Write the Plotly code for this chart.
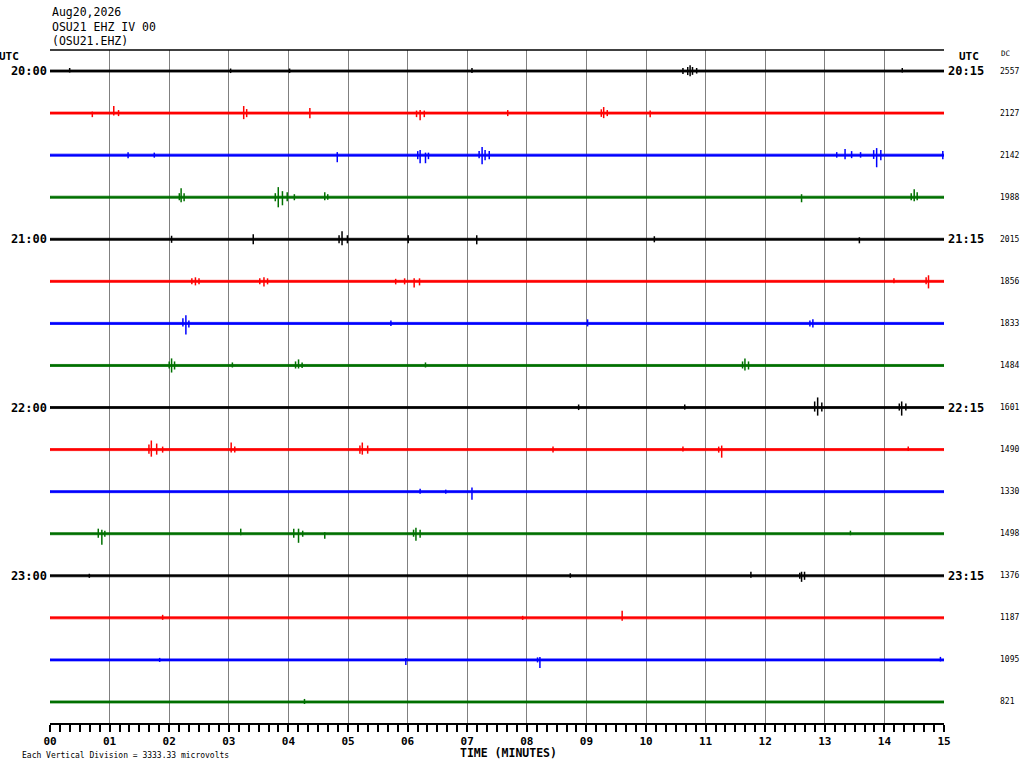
import plotly.graph_objects as go

# Helicorder page: OSU21 EHZ, 20:00-24:00 UTC, 15 minutes per line
MINUTES = 15
UV_PER_DIV = 3333.33  # each vertical division (line spacing), microvolts

HEADER = ["Aug20,2026", "OSU21 EHZ IV 00", "(OSU21.EHZ)"]
LEFT_TIMES = ["20:00", "21:00", "22:00", "23:00"]
RIGHT_TIMES = ["20:15", "21:15", "22:15", "23:15"]
HOUR_LINES = [0, 4, 8, 12]
DC_VALUES = [2557, 2127, 2142, 1988, 2015, 1856, 1833, 1484,
             1601, 1490, 1330, 1498, 1376, 1187, 1095, 821]
TRACE_COLORS = ["#000000", "#ff0000", "#0000ff", "#007000"]
MINUTE_LABELS = ["%02d" % m for m in range(MINUTES + 1)]

# background noise half-width for every line, microvolts
NOISE_UV = 80

# spikes: (minute, peak up uV, peak down uV)
T00 = [(0.33, 240, 120), (3.03, 200, 160), (4.02, 200, 160), (7.08, 240, 160),
       (10.62, 240, 240), (10.70, 320, 320), (10.74, 450, 420), (10.78, 320, 300),
       (10.85, 240, 200), (14.30, 240, 120)]
T01 = [(0.71, 120, 320), (1.07, 560, 200), (1.15, 240, 240), (3.25, 560, 480),
       (3.30, 320, 320), (4.36, 400, 400), (6.15, 200, 320), (6.21, 240, 560),
       (6.28, 200, 320), (7.68, 240, 240), (9.25, 300, 300), (9.29, 480, 400),
       (9.35, 240, 240), (10.07, 200, 320)]
T02 = [(1.31, 240, 240), (1.75, 200, 200), (4.82, 240, 560), (6.17, 320, 320),
       (6.21, 400, 640), (6.30, 200, 640), (6.35, 200, 320), (7.20, 320, 240),
       (7.25, 640, 720), (7.30, 400, 400), (7.37, 320, 320), (13.20, 240, 200),
       (13.34, 480, 320), (13.45, 320, 240), (13.60, 240, 200), (13.82, 400, 300),
       (13.87, 560, 960), (13.94, 400, 400), (14.98, 320, 320)]
T03 = [(2.17, 320, 240), (2.20, 720, 400), (2.25, 320, 320), (3.78, 320, 320),
       (3.83, 800, 800), (3.90, 480, 640), (3.98, 400, 320), (4.10, 240, 240),
       (4.61, 400, 240), (4.66, 240, 200), (12.61, 240, 400), (14.45, 320, 240),
       (14.50, 640, 320), (14.55, 400, 240)]
T04 = [(2.04, 280, 280), (3.41, 400, 400), (4.85, 320, 320), (4.90, 640, 480),
       (4.99, 320, 320), (6.01, 320, 320), (7.16, 320, 400), (10.14, 240, 240),
       (13.58, 160, 320)]
T05 = [(2.38, 240, 240), (2.44, 320, 320), (2.50, 240, 240), (3.52, 240, 240),
       (3.59, 320, 400), (3.65, 240, 240), (5.80, 200, 240), (5.95, 240, 240),
       (6.11, 240, 480), (6.20, 240, 320), (14.16, 240, 160), (14.70, 320, 240),
       (14.74, 480, 560)]
T06 = [(2.23, 400, 240), (2.28, 640, 880), (2.33, 240, 320), (5.72, 240, 200),
       (9.02, 320, 240), (12.75, 240, 240), (12.80, 320, 320)]
T07 = [(2.00, 320, 240), (2.04, 560, 560), (2.09, 320, 320), (3.06, 240, 160),
       (4.12, 320, 240), (4.17, 480, 240), (4.23, 240, 200), (6.30, 240, 160),
       (11.62, 320, 240), (11.66, 560, 400), (11.72, 320, 320)]
T08 = [(8.87, 240, 200), (10.65, 240, 160), (12.83, 480, 320), (12.88, 800, 640),
       (12.95, 400, 320), (14.25, 320, 240), (14.29, 480, 640), (14.36, 320, 240)]
T09 = [(1.66, 400, 320), (1.70, 720, 560), (1.79, 480, 400), (1.89, 240, 240),
       (3.04, 560, 240), (3.10, 240, 240), (5.20, 320, 320), (5.24, 560, 400),
       (5.33, 320, 320), (8.44, 240, 240), (10.62, 240, 160), (11.22, 240, 240),
       (11.27, 320, 640), (14.40, 240, 120)]
T10 = [(6.21, 240, 160), (6.64, 160, 160), (7.08, 320, 640)]
T11 = [(0.81, 400, 320), (0.87, 320, 880), (0.92, 240, 240), (3.20, 400, 120),
       (4.09, 400, 320), (4.17, 400, 720), (4.24, 240, 240), (4.61, 120, 400),
       (6.10, 320, 240), (6.14, 480, 560), (6.21, 320, 320), (13.43, 240, 120)]
T12 = [(0.66, 160, 160), (8.73, 200, 160), (11.76, 320, 160), (12.58, 240, 240),
       (12.61, 320, 480), (12.66, 320, 320)]
T13 = [(1.89, 240, 160), (7.93, 160, 160), (9.60, 560, 240)]
T14 = [(1.84, 160, 160), (5.97, 160, 400), (8.18, 200, 200), (8.22, 240, 640),
       (14.94, 240, 120)]
T15 = [(4.27, 240, 160)]

SPIKES = [T00, T01, T02, T03, T04, T05, T06, T07,
          T08, T09, T10, T11, T12, T13, T14, T15]

MONO = "DejaVu Sans Mono"
n_lines = len(SPIKES)

fig = go.Figure()

for i, spikes in enumerate(SPIKES):
    color = TRACE_COLORS[i % 4]
    base = -i
    nz = NOISE_UV / UV_PER_DIV
    # noise band along the line
    fig.add_trace(go.Scatter(
        x=[0, MINUTES, MINUTES, 0, 0],
        y=[base + nz, base + nz, base - nz, base - nz, base + nz],
        mode="lines", fill="toself", fillcolor=color,
        line=dict(color=color, width=0.8), hoverinfo="skip", showlegend=False,
    ))
    xs, ys = [], []
    for m, up, dn in spikes:
        xs += [m, m, None]
        ys += [base + up / UV_PER_DIV, base - dn / UV_PER_DIV, None]
    fig.add_trace(go.Scatter(
        x=xs, y=ys, mode="lines", line=dict(color=color, width=1.5),
        hoverinfo="skip", showlegend=False,
    ))

# invisible anchor so the right-hand time axis is drawn
fig.add_trace(go.Scatter(
    x=[MINUTES] * len(HOUR_LINES), y=[-h for h in HOUR_LINES], yaxis="y2",
    mode="markers", marker=dict(opacity=0), hoverinfo="skip", showlegend=False,
))

yrange = [-(n_lines - 1) - 0.5, 0.5]

fig.update_layout(
    width=1024, height=768,
    margin=dict(l=50, r=80, t=50, b=45),
    plot_bgcolor="white", paper_bgcolor="white",
    font=dict(family=MONO, color="black"),
    xaxis=dict(
        range=[0, MINUTES], tickvals=list(range(MINUTES + 1)), ticktext=MINUTE_LABELS,
        showgrid=True, gridcolor="#808080", gridwidth=1, zeroline=False,
        showline=True, linecolor="black", linewidth=1.5,
        ticks="outside", ticklen=7, tickcolor="black", tickwidth=1.5,
        ticklabelstandoff=0,
        tickfont=dict(family=MONO, size=11, weight="bold"),
        minor=dict(dtick=1 / 6, tick0=0, ticks="outside", ticklen=7,
                   tickcolor="black", tickwidth=1.5, showgrid=False),
        fixedrange=True,
    ),
    yaxis=dict(
        range=yrange, tickvals=[-h for h in HOUR_LINES], ticktext=LEFT_TIMES,
        showgrid=False, zeroline=False, showline=False, ticks="",
        ticklabelstandoff=2,
        tickfont=dict(family=MONO, size=12, weight="bold"), fixedrange=True,
    ),
    yaxis2=dict(
        range=yrange, overlaying="y", side="right", anchor="x",
        tickvals=[-h for h in HOUR_LINES], ticktext=RIGHT_TIMES,
        showgrid=False, zeroline=False, showline=False, ticks="",
        ticklabelstandoff=3,
        tickfont=dict(family=MONO, size=12, weight="bold"), fixedrange=True,
    ),
)

# top frame line
fig.add_shape(type="line", xref="paper", yref="paper", x0=0, x1=1, y0=1, y1=1,
              line=dict(color="black", width=1.5))

ann = []
for k, txt in enumerate(HEADER):
    ann.append(dict(text=txt, xref="paper", yref="paper", x=0, y=1,
                    xanchor="left", yanchor="middle", yshift=38 - 14.5 * k,
                    showarrow=False, font=dict(family=MONO, size=11.5)))
ann.append(dict(text="UTC", xref="paper", yref="paper", x=0, y=1, xanchor="right",
                yanchor="middle", xshift=-29, yshift=-6, showarrow=False,
                font=dict(family=MONO, size=11, weight="bold")))
ann.append(dict(text="UTC", xref="paper", yref="paper", x=1, y=1, xanchor="left",
                yanchor="middle", xshift=13, yshift=-6, showarrow=False,
                font=dict(family=MONO, size=11, weight="bold")))
ann.append(dict(text="DC", xref="paper", yref="paper", x=1, y=1, xanchor="left",
                yanchor="middle", xshift=55, yshift=-3, showarrow=False,
                font=dict(family=MONO, size=7.5)))
for i, dc in enumerate(DC_VALUES):
    ann.append(dict(text=str(dc), xref="paper", yref="y", x=1, y=-i, xanchor="left",
                    yanchor="middle", xshift=54, showarrow=False,
                    font=dict(family=MONO, size=8)))
ann.append(dict(text="TIME (MINUTES)", xref="paper", yref="paper", x=0.513, y=0,
                xanchor="center", yanchor="middle", yshift=-30, showarrow=False,
                font=dict(family=MONO, size=11.5, weight="bold")))
ann.append(dict(text="Each Vertical Division = %.2f microvolts" % UV_PER_DIV,
                xref="paper", yref="paper", x=0, y=0, xanchor="left",
                yanchor="middle", xshift=-30, yshift=-32, showarrow=False,
                font=dict(family=MONO, size=8)))
fig.update_layout(annotations=ann)

fig.write_html("out.html", config={"displayModeBar": False},
               post_script="document.body.style.margin='0px';")
